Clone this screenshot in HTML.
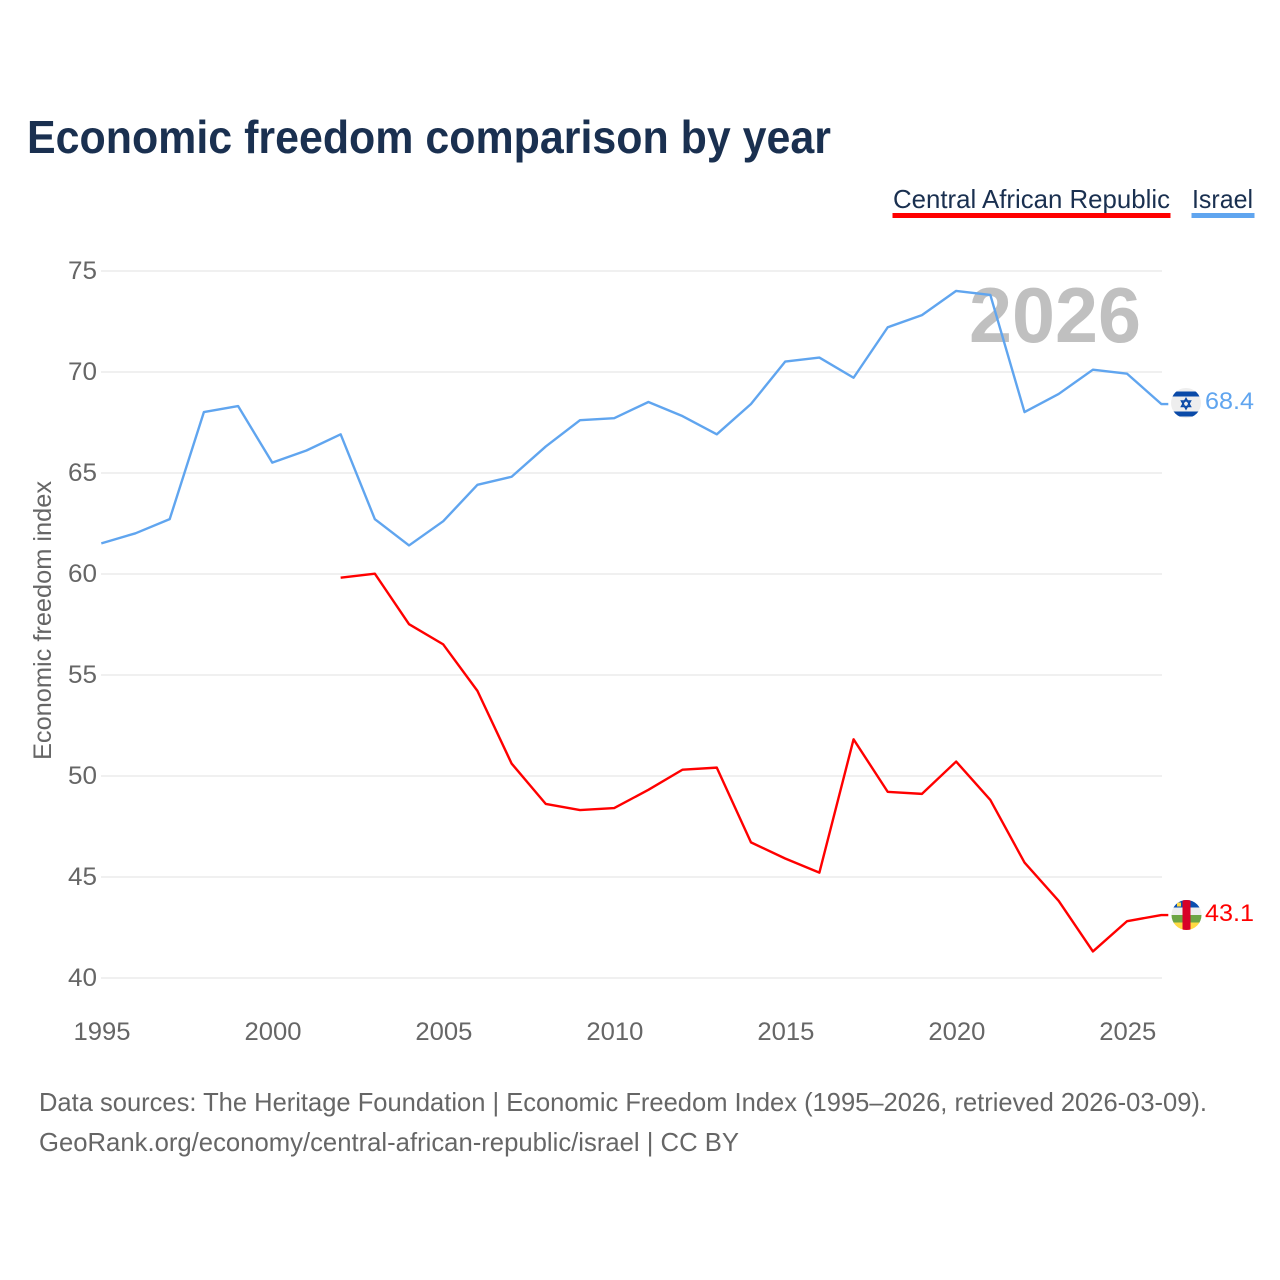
<!DOCTYPE html>
<html lang="en">
<head>
<meta charset="utf-8">
<title>Economic freedom comparison by year</title>
<style>
html,body{margin:0;padding:0;background:#fff;width:1280px;height:1280px;overflow:hidden}
svg{display:block}
text{font-family:"Liberation Sans",sans-serif}
</style>
</head>
<body>
<svg id="chart" xmlns="http://www.w3.org/2000/svg" width="1280" height="1280" viewBox="0 0 1280 1280">
  <defs>
    <clipPath id="flag-clip-il"><circle cx="1186" cy="403" r="15"/></clipPath>
    <clipPath id="flag-clip-cf"><circle cx="1186.500" cy="915" r="15"/></clipPath>
  </defs>
  <text x="27" y="153" font-size="46" font-weight="700" fill="#1a3050" textLength="804" lengthAdjust="spacingAndGlyphs">Economic freedom comparison by year</text>

  <g>
    <g>
      <text x="893" y="208" font-size="26" fill="#1a3050" textLength="277" lengthAdjust="spacingAndGlyphs">Central African Republic</text>
      <rect x="892.500" y="213" width="278" height="5" fill="#ff0000"/>
    </g>
    <g>
      <text x="1192" y="208" font-size="26" fill="#1a3050" textLength="61" lengthAdjust="spacingAndGlyphs">Israel</text>
      <rect x="1191.500" y="213" width="63" height="5" fill="#60a5ef"/>
    </g>
  </g>

  <g id="grid"></g>
  <g id="y-axis"></g>
  <g id="x-axis"></g>

  <text transform="translate(51,760) rotate(-90)" font-size="25" fill="#666666" textLength="279" lengthAdjust="spacingAndGlyphs">Economic freedom index</text>

  <text x="969" y="342" font-size="78" font-weight="700" fill="#c0c0c0" textLength="172" lengthAdjust="spacingAndGlyphs">2026</text>

  <g id="series"></g>

  <g clip-path="url(#flag-clip-il)">
    <rect x="1171" y="388" width="30" height="30" fill="#eeeeee"/>
    <rect x="1171" y="391.500" width="30" height="5" fill="#0a4aa8"/>
    <rect x="1171" y="411.500" width="30" height="5" fill="#0a4aa8"/>
    <polygon points="1186,398.500 1190.500,406.500 1181.500,406.500" fill="none" stroke="#0a4aa8" stroke-width="1.500"/>
    <polygon points="1186,409 1190.500,401 1181.500,401" fill="none" stroke="#0a4aa8" stroke-width="1.500"/>
  </g>
  <g clip-path="url(#flag-clip-cf)">
    <rect x="1171" y="899" width="31" height="9" fill="#0b4fb0"/>
    <rect x="1171" y="907.500" width="31" height="8" fill="#eeeeee"/>
    <rect x="1171" y="915" width="31" height="8" fill="#6da544"/>
    <rect x="1171" y="922.500" width="31" height="9" fill="#ffda44"/>
    <rect x="1182.500" y="899" width="8" height="32" fill="#d80027"/>
    <rect x="1177" y="902.500" width="4" height="4" fill="#ffda44"/>
  </g>

  <text x="1205" y="409" font-size="24.500" fill="#60a5ef" textLength="49" lengthAdjust="spacingAndGlyphs">68.4</text>
  <text x="1205" y="921" font-size="24.500" fill="#ff0000" textLength="49" lengthAdjust="spacingAndGlyphs">43.1</text>

  <g>
    <text x="39" y="1111" font-size="26" fill="#666666" textLength="1168" lengthAdjust="spacingAndGlyphs">Data sources: The Heritage Foundation | Economic Freedom Index (1995–2026, retrieved 2026-03-09).</text>
    <text x="39" y="1151" font-size="26" fill="#666666" textLength="700" lengthAdjust="spacingAndGlyphs">GeoRank.org/economy/central-african-republic/israel | CC BY</text>
  </g>
</svg>
<script>
const years = [1995,1996,1997,1998,1999,2000,2001,2002,2003,2004,2005,2006,2007,2008,2009,2010,2011,2012,2013,2014,2015,2016,2017,2018,2019,2020,2021,2022,2023,2024,2025,2026];
const israelValues = [61.5,62.0,62.7,68.0,68.3,65.5,66.1,66.9,62.7,61.4,62.6,64.4,64.8,66.3,67.6,67.7,68.5,67.8,66.9,68.4,70.5,70.7,69.7,72.2,72.8,74.0,73.8,68.0,68.9,70.1,69.9,68.4];
const carValues = [null,null,null,null,null,null,null,59.8,60.0,57.5,56.5,54.2,50.6,48.6,48.3,48.4,49.3,50.3,50.4,46.7,45.9,45.2,51.8,49.2,49.1,50.7,48.8,45.7,43.8,41.3,42.8,43.1];
const yTicks = [40,45,50,55,60,65,70,75];
const xTicks = [1995,2000,2005,2010,2015,2020,2025];

const svgNS = 'http://www.w3.org/2000/svg';
function xScale(year){ return 101.3 + (year - 1995) * (1161.3 - 101.3) / (2026 - 1995); }
function yScale(value){ return 977.7 - (value - 40) * (977.7 - 270.7) / (75 - 40); }
function make(tag, attrs, parent){
  const el = document.createElementNS(svgNS, tag);
  for (const k in attrs) el.setAttribute(k, attrs[k]);
  parent.appendChild(el);
  return el;
}

const gridGroup = document.getElementById('grid');
const yAxisGroup = document.getElementById('y-axis');
const xAxisGroup = document.getElementById('x-axis');
const seriesGroup = document.getElementById('series');

yTicks.forEach(function(t){
  const line = make('line', {x1:101, x2:1162, y1:yScale(t) + 0.3, y2:yScale(t) + 0.3, stroke:'#f0f0f0', 'stroke-width':2}, gridGroup);
  
  
  const label = make('text', {x:97, y:yScale(t) + 8.3, 'text-anchor':'end', 'font-size':25, fill:'#666666', textLength:29, lengthAdjust:'spacingAndGlyphs'}, yAxisGroup);
  label.textContent = t;
  
  
});

xTicks.forEach(function(t){
  const label = make('text', {x:xScale(t) + 0.7, y:1040, 'text-anchor':'middle', 'font-size':25, fill:'#666666', textLength:57, lengthAdjust:'spacingAndGlyphs'}, xAxisGroup);
  label.textContent = t;
  
  
});

function linePath(values){
  let d = '';
  let last = null;
  values.forEach(function(v, i){
    if (v === null) return;
    d += (d ? 'L' : 'M') + xScale(years[i]).toFixed(2) + ' ' + yScale(v).toFixed(2);
    last = v;
  });
  return d + 'h7';
}

const israelLine = make('path', {d:linePath(israelValues), fill:'none', stroke:'#60a5ef', 'stroke-width':2.4, 'stroke-linejoin':'round'}, seriesGroup);



const carLine = make('path', {d:linePath(carValues), fill:'none', stroke:'#ff0000', 'stroke-width':2.4, 'stroke-linejoin':'round'}, seriesGroup);


</script>
</body>
</html>
